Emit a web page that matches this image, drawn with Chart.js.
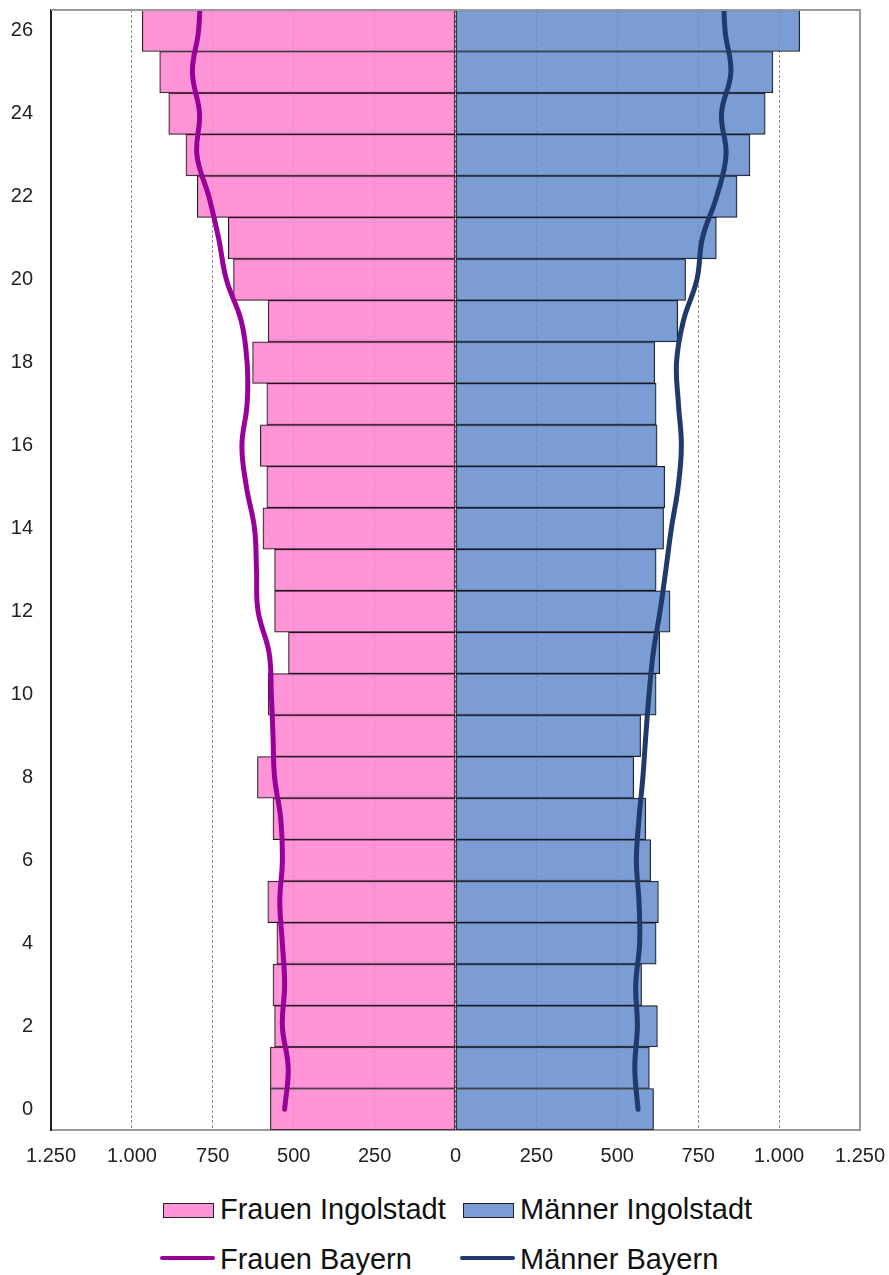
<!DOCTYPE html>
<html lang="de">
<head>
  <meta charset="UTF-8">
  <title>Altersaufbau Ingolstadt / Bayern</title>
  <script src="https://cdn.jsdelivr.net/npm/chart.js"></script>
  <style>
    body {
      margin: 0;
      background: #fff;
      font-family: Arial, "Liberation Sans", sans-serif;
    }

    .wrap {
      position: relative;
      width: 889px;
      height: 1275px;
    }

    .chart-box {
      position: absolute;
      left: 0;
      top: 0;
      width: 889px;
      height: 1182px;
    }

    .legend-item {
      position: absolute;
      height: 34px;
      width: 300px;
      font-size: 29px;
      line-height: 34px;
      color: #111;
      white-space: nowrap;
    }

    .legend-item .sw {
      position: absolute;
      box-sizing: border-box;
    }

    .legend-item .txt {
      position: absolute;
      left: 57px;
      top: 0;
    }
  </style>
</head>
<body>
  <div class="wrap">
    <div class="chart-box"><canvas id="pyramid"></canvas></div>
    <div id="legend"></div>
  </div>

  <script>
    // Alter in Jahren (y-Achse)
    const ages = [0, 1, 2, 3, 4, 5, 6, 7, 8, 9, 10, 11, 12, 13, 14, 15, 16, 17, 18, 19, 20, 21, 22, 23, 24, 25, 26];
    const ageTicks = [0, 2, 4, 6, 8, 10, 12, 14, 16, 18, 20, 22, 24, 26];
    const xTicks = [-1250, -1000, -750, -500, -250, 0, 250, 500, 750, 1000, 1250];

    // Ingolstadt, Personen je Altersjahr
    const frauenIngolstadt = [572, 572, 559, 564, 552, 580, 540, 564, 612, 565, 579, 516, 559, 559, 595, 583, 603, 583, 627, 579, 686, 702, 798, 833, 886, 914, 968];
    const maennerIngolstadt = [612, 599, 624, 575, 620, 627, 603, 588, 551, 572, 620, 631, 663, 620, 643, 647, 623, 620, 616, 687, 711, 806, 870, 910, 957, 981, 1064];

    // Bayern, auf Ingolstadt umgerechnet (Alter 0..27, 27 liegt oberhalb des Diagramms)
    const bayernAges = [0, 1, 2, 3, 4, 5, 6, 7, 8, 9, 10, 11, 12, 13, 14, 15, 16, 17, 18, 19, 20, 21, 22, 23, 24, 25, 26, 27];
    const frauenBayern = [528, 517, 535, 528, 535, 543, 535, 540, 559, 564, 569, 576, 610, 615, 621, 646, 660, 644, 644, 662, 708, 732, 762, 799, 791, 813, 794, 788];
    const maennerBayern = [564, 554, 562, 557, 569, 567, 559, 567, 579, 588, 598, 611, 632, 650, 667, 688, 698, 689, 683, 704, 746, 763, 807, 836, 822, 851, 833, 828];

    const fmt = v => String(Math.abs(v)).replace(/\B(?=(\d{3})+(?!\d))/g, '.');

    const legendItems = [
      { label: 'Frauen Ingolstadt', kind: 'box', color: '#ff94d6', left: 163, top: 1192 },
      { label: 'Männer Ingolstadt', kind: 'box', color: '#7c9cd5', left: 463, top: 1192 },
      { label: 'Frauen Bayern', kind: 'line', color: '#990099', left: 163, top: 1242 },
      { label: 'Männer Bayern', kind: 'line', color: '#1f3a6b', left: 463, top: 1242 }
    ];

    // Rahmen oben/rechts um die Zeichenfläche
    const frame = {
      id: 'frame',
      afterDatasetsDraw(chart) {
        const { ctx, chartArea: a } = chart;
        ctx.save();
        ctx.strokeStyle = '#9a9a9a';
        ctx.lineWidth = 2;
        ctx.beginPath();
        ctx.moveTo(a.left, a.top);
        ctx.lineTo(a.right, a.top);
        ctx.lineTo(a.right, a.bottom);
        ctx.stroke();
        ctx.restore();
      }
    };

    const ctx = document.getElementById('pyramid').getContext('2d');

    new Chart(ctx, {
      type: 'bar',
      data: {
        datasets: [
          {
            type: 'line',
            label: 'Frauen Bayern',
            data: bayernAges.map((a, i) => ({ x: -frauenBayern[i], y: a })),
            borderColor: '#990099',
            borderWidth: 5,
            borderCapStyle: 'round',
            pointRadius: 0,
            tension: 0.4,
            clip: 0,
            order: 0
          },
          {
            type: 'line',
            label: 'Männer Bayern',
            data: bayernAges.map((a, i) => ({ x: maennerBayern[i], y: a })),
            borderColor: '#1f3a6b',
            borderWidth: 5,
            borderCapStyle: 'round',
            pointRadius: 0,
            tension: 0.4,
            clip: 0,
            order: 0
          },
          {
            label: 'Frauen Ingolstadt',
            data: ages.map((a, i) => ({ x: -frauenIngolstadt[i], y: a })),
            backgroundColor: 'rgba(255, 129, 207, 0.85)',
            borderColor: '#1a1a1a',
            borderWidth: 1,
            borderSkipped: false,
            barPercentage: 1,
            categoryPercentage: 1,
            grouped: false,
            order: 1
          },
          {
            label: 'Männer Ingolstadt',
            data: ages.map((a, i) => ({ x: maennerIngolstadt[i], y: a })),
            backgroundColor: 'rgba(101, 139, 204, 0.85)',
            borderColor: '#1a1a1a',
            borderWidth: 1,
            borderSkipped: false,
            barPercentage: 1,
            categoryPercentage: 1,
            grouped: false,
            order: 1
          }
        ]
      },
      options: {
        indexAxis: 'y',
        responsive: true,
        maintainAspectRatio: false,
        animation: false,
        layout: {
          padding: { top: 10, right: 29, bottom: 0, left: 0 }
        },
        plugins: {
          legend: { display: false },
          tooltip: { enabled: false }
        },
        scales: {
          x: {
            type: 'linear',
            min: -1250,
            max: 1250,
            offset: false,
            afterBuildTicks: s => { s.ticks = xTicks.map(v => ({ value: v })); },
            afterFit: s => {
              s.paddingLeft = 0;
              s.paddingRight = 0;
            },
            ticks: {
              callback: v => fmt(v),
              color: '#222',
              padding: 14,
              maxRotation: 0,
              font: { family: 'Arial, "Liberation Sans", sans-serif', size: 20 }
            },
            grid: {
              color: '#8c8c8c',
              lineWidth: 1,
              drawTicks: false
            },
            border: { color: '#9a9a9a', width: 2, dash: [3, 2] }
          },
          y: {
            type: 'linear',
            min: -0.5,
            max: 26.5,
            offset: false,
            afterBuildTicks: s => { s.ticks = ageTicks.map(v => ({ value: v })); },
            afterFit: s => {
              s.width = 51;
              s.paddingTop = 0;
              s.paddingBottom = 0;
            },
            ticks: {
              color: '#222',
              padding: 18,
              font: { family: 'Arial, "Liberation Sans", sans-serif', size: 20 }
            },
            grid: { display: false, drawTicks: false, offset: false },
            border: { color: '#222', width: 2 }
          }
        }
      },
      plugins: [frame]
    });

    // Legende in zwei Zeilen wie im Original
    const legendEl = document.getElementById('legend');
    legendItems.forEach(item => {
      const div = document.createElement('div');
      div.className = 'legend-item';
      div.style.left = item.left + 'px';
      div.style.top = item.top + 'px';
      const sw = document.createElement('span');
      sw.className = 'sw';
      if (item.kind === 'box') {
        sw.style.left = '0px';
        sw.style.top = '11px';
        sw.style.width = '51px';
        sw.style.height = '15px';
        sw.style.background = item.color;
        sw.style.border = '1.5px solid #222';
      } else {
        sw.style.left = '-3px';
        sw.style.top = '14px';
        sw.style.width = '55px';
        sw.style.height = '4px';
        sw.style.borderRadius = '2px';
        sw.style.background = item.color;
      }
      const txt = document.createElement('span');
      txt.className = 'txt';
      txt.textContent = item.label;
      div.appendChild(sw);
      div.appendChild(txt);
      legendEl.appendChild(div);
    });
  </script>
</body>
</html>
